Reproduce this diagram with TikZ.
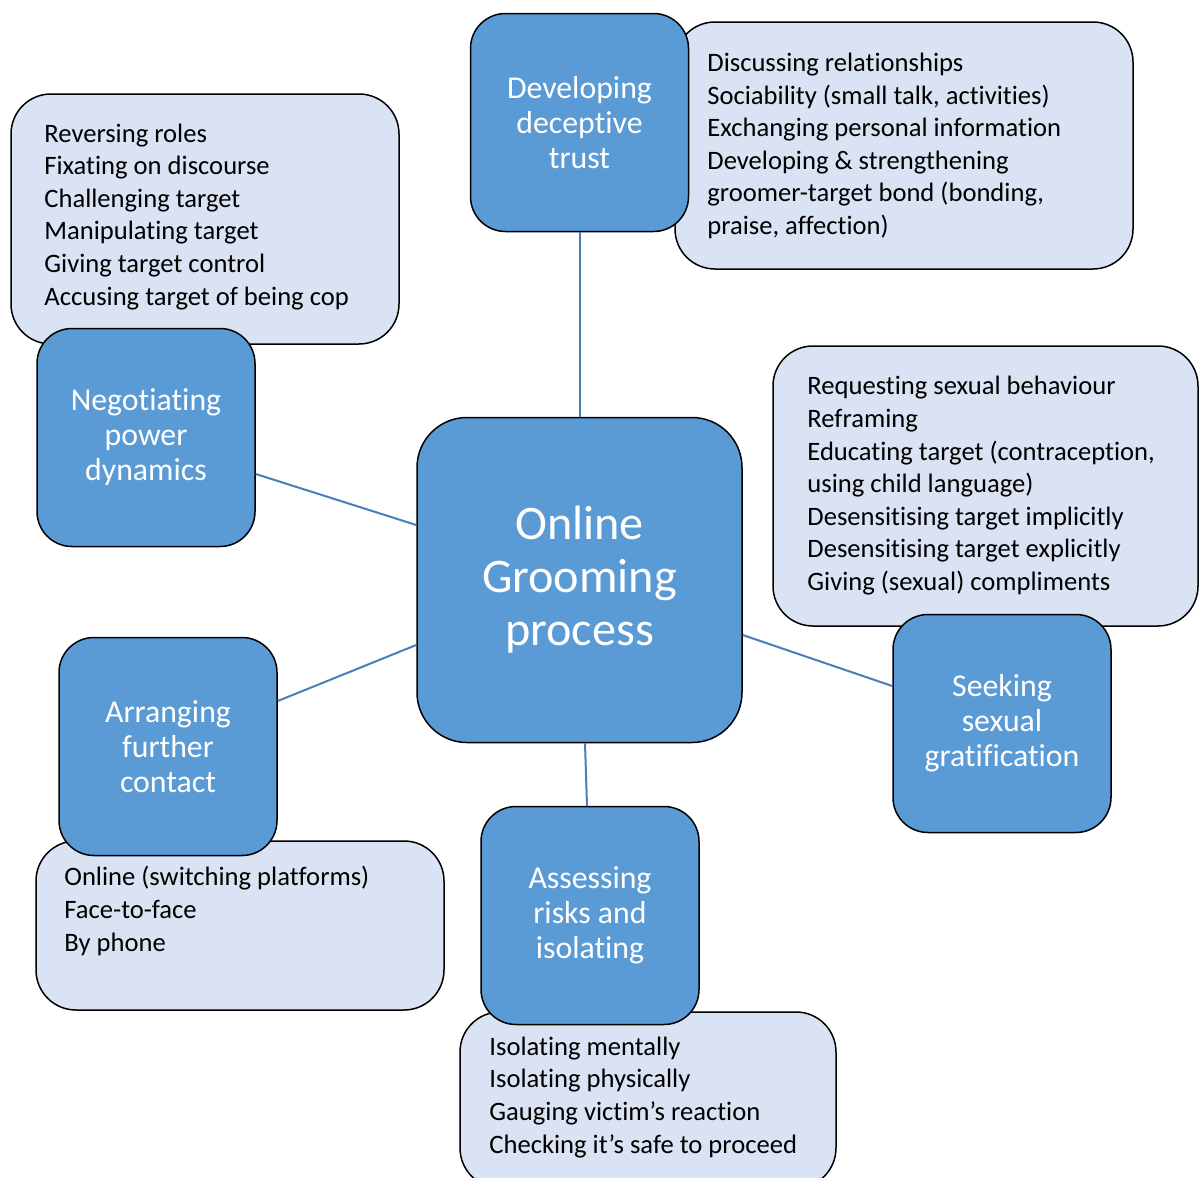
\documentclass[tikz,border=0pt]{standalone}
\usepackage{fontspec}
\setmainfont{Carlito}[Ligatures=NoCommon]
\usetikzlibrary{calc}
\definecolor{stageblue}{HTML}{5B9BD5}
\definecolor{detailfill}{HTML}{DAE3F3}
\definecolor{linkblue}{HTML}{4A7EBB}
\tikzset{
  hub/.style={draw=black, line width=0.75pt, fill=stageblue, rounded corners=25pt,
    minimum width=162.5pt, minimum height=162.5pt, inner sep=0pt, text=white,
    align=center, font=\fontsize{24.1}{26.5}\selectfont},
  stage/.style={draw=black, line width=0.75pt, fill=stageblue, rounded corners=17.5pt,
    minimum width=109pt, minimum height=109pt, inner sep=0pt, text=white,
    align=center, font=\fontsize{15.9}{17.5}\selectfont},
  detail/.style={draw=black, line width=0.75pt, fill=detailfill, rounded corners=20pt,
    inner sep=0pt},
  items/.style={anchor=base west, inner sep=0pt, align=left, text=black,
    font=\fontsize{13.3}{16.3}\selectfont},
  link/.style={draw=linkblue, line width=1pt}
}
\begin{document}
\begin{tikzpicture}[x=0.5pt, y=-0.5pt]
\useasboundingbox (0,0) rectangle (1200,1178);
\node[detail, minimum width=194pt, minimum height=125pt] (powerbox) at (205,219) {};
\node[detail, minimum width=229pt, minimum height=123.5pt] (trustbox) at (904,145.5) {};
\node[detail, minimum width=212.5pt, minimum height=140pt] (seekbox) at (985.5,486) {};
\node[detail, minimum width=204pt, minimum height=84.5pt] (arrangebox) at (240,925.5) {};
\node[detail, minimum width=188pt, minimum height=88pt] (assessbox) at (648,1100) {};
% anchors sit on the last baseline
\node[items] (powerlist) at (44,305) {Reversing roles\\Fixating on discourse\\Challenging target\\Manipulating target\\Giving target control\\Accusing target of being cop};
\node[items] (trustlist) at (707,234.5) {Discussing relationships\\Sociability (small talk, activities)\\Exchanging personal information\\Developing \& strengthening\\groomer-target bond (bonding,\\praise, affection)};
\node[items] (seeklist) at (807,590.5) {Requesting sexual behaviour\\Reframing\\Educating target (contraception,\\using child language)\\Desensitising target implicitly\\Desensitising target explicitly\\Giving (sexual) compliments};
\node[items] (arrangelist) at (64,951) {Online (switching platforms)\\Face-to-face\\By phone};
\node[items] (assesslist) at (489,1153) {Isolating mentally\\Isolating physically\\Gauging victim’s reaction\\Checking it’s safe to proceed};

\node[hub] (hub) at (579.5,580) {Online\\Grooming\\process};
\node[stage] (trust) at (579.5,122.5) {Developing\\deceptive\\trust};
\node[stage] (power) at (146,437.5) {Negotiating\\power\\dynamics};
\node[stage] (arrange) at (168,746.5) {Arranging\\further\\contact};
\node[stage] (seek) at (1002,723.5) {Seeking\\sexual\\gratification};
\node[stage] (assess) at (590,915.5) {Assessing\\risks and\\isolating};

\draw[link] (hub.north) -- (trust.south);
\draw[link] ($(power.east)+(0,36.5)$) -- ($(hub.west)+(0,-55)$);
\draw[link] ($(arrange.east)+(0,-45.5)$) -- ($(hub.west)+(0,65)$);
\draw[link] ($(hub.east)+(0,55)$) -- ($(seek.west)+(0,-37.5)$);
\draw[link] ($(hub.south)+(5.5,0)$) -- ($(assess.north)+(-3,0)$);
\end{tikzpicture}
\end{document}
